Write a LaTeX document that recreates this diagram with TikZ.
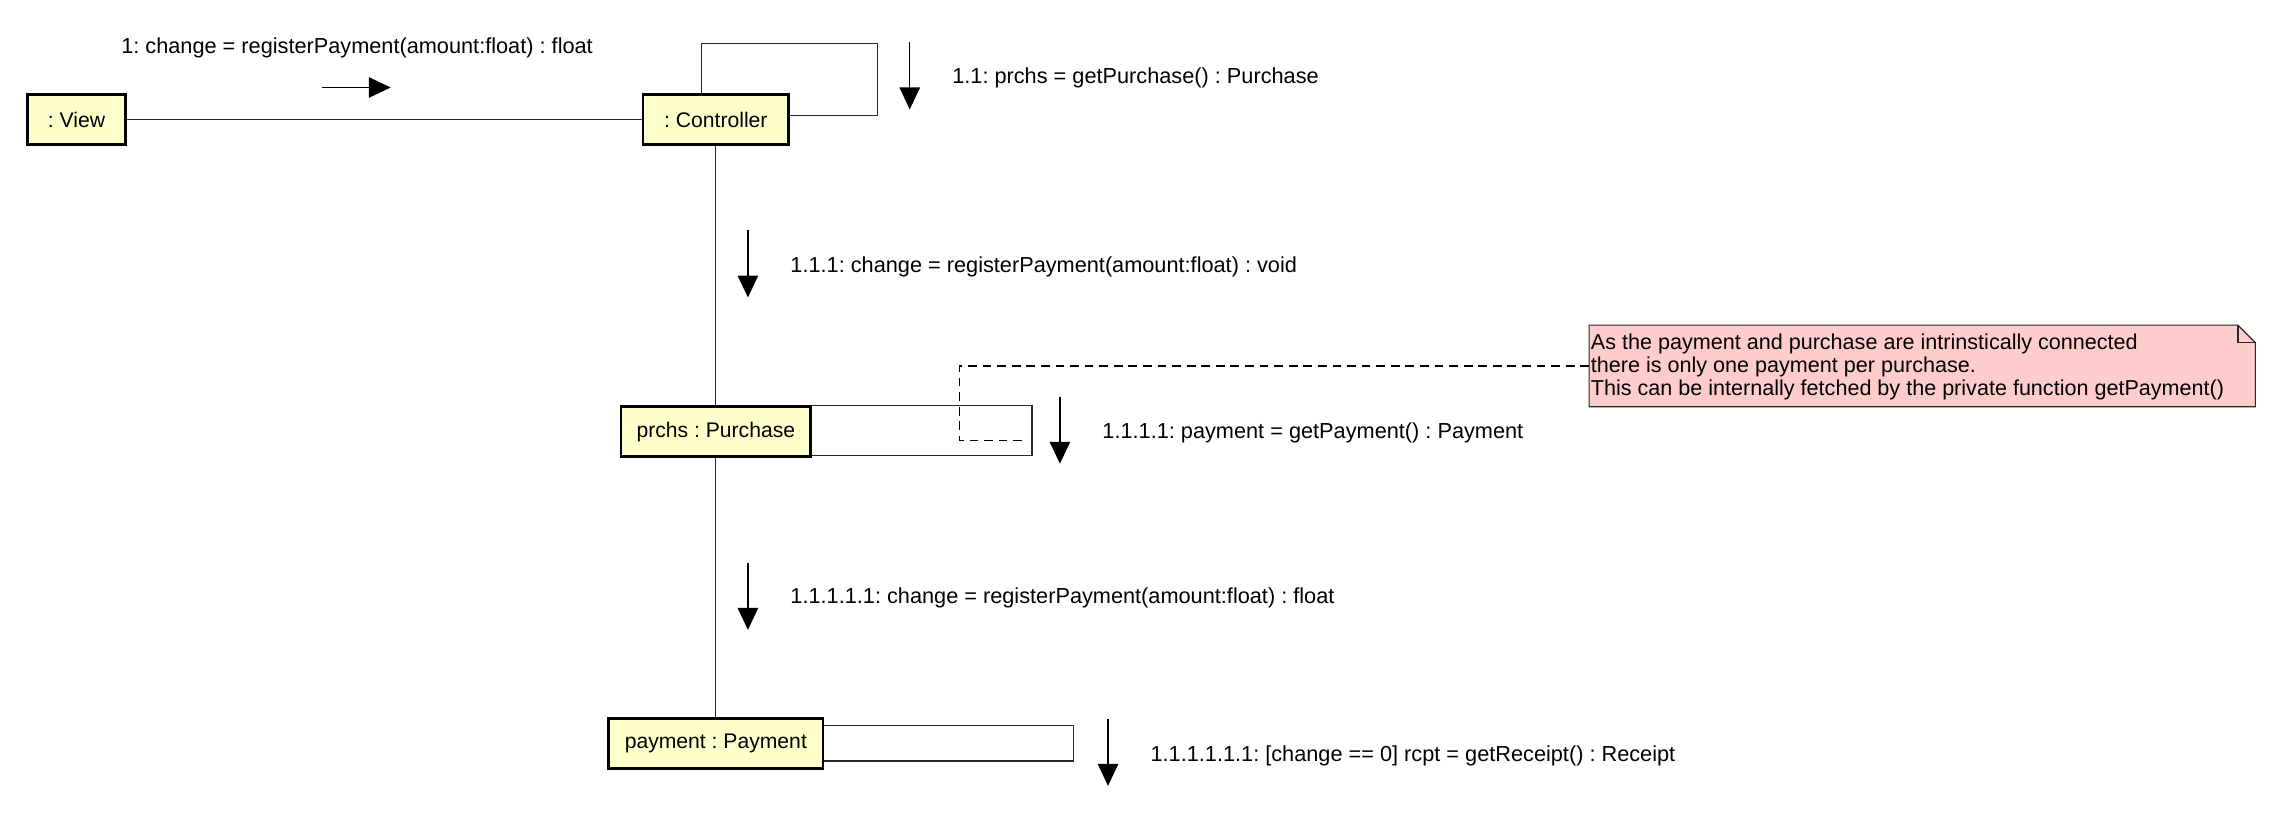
\documentclass[tikz,border=0pt]{standalone}
\usepackage{fontspec}
\setmainfont{Liberation Sans}
\usetikzlibrary{arrows.meta,calc}
\definecolor{objfill}{RGB}{255,255,204}
\definecolor{notefill}{RGB}{255,204,204}
\definecolor{edgegray}{RGB}{40,40,40}
\tikzset{
  obj/.style={draw=black, line width=1.8pt, fill=objfill, minimum height=34pt,
    inner sep=0pt, font=\fontsize{14.5}{16}\selectfont},
  link/.style={draw=edgegray, line width=0.9pt},
  msg/.style={draw=black, line width=0.9pt, -{Triangle[length=15pt,width=14pt]}},
  msglabel/.style={anchor=base west, inner sep=0pt, font=\fontsize{14.9}{16}\selectfont},
  notebox/.style={draw=edgegray, line width=0.8pt, fill=notefill},
  notelink/.style={draw=black, line width=0.9pt, dash pattern=on 6pt off 4pt},
}
\frenchspacing
\begin{document}
\begin{tikzpicture}[x=1pt,y=-1pt]
\useasboundingbox (0,0) rectangle (1568,571);

% object positions (boxes are drawn on top of the links below)
\coordinate (viewc) at (52.5,82);
\coordinate (ctlc)  at (491,82);
\coordinate (purc)  at (491,296);
\coordinate (payc)  at (491,510);
\path (viewc) node[obj, minimum width=67pt, draw=none, fill=none] (view) {\phantom{: View}};
\path (ctlc)  node[obj, minimum width=100pt, draw=none, fill=none] (ctl) {\phantom{: Controller}};
\path (purc)  node[obj, minimum width=130pt, draw=none, fill=none] (pur) {\phantom{prchs : Purchase}};
\path (payc)  node[obj, minimum width=147pt, draw=none, fill=none] (pay) {\phantom{payment : Payment}};

% links between objects
\draw[link] (view.east) -- (ctl.west);
\draw[link] (ctl.south) -- (pur.north);
\draw[link] (pur.south) -- (pay.north);

% self links
\draw[link] ($(ctl.north)+(-10,0)$) |- (602,30) |- ($(ctl.east)+(0,-3)$);
\draw[link] (pur.north east) -| ($(pur.south east)+(151,-1.5)$) -- ($(pur.south east)+(0,-1.5)$);
\draw[link] ($(pay.north east)+(0,5.5)$) -| ($(pay.south east)+(171,-6)$) -- ($(pay.south east)+(0,-6)$);

% object boxes
\node[obj, minimum width=67pt]  at (viewc) {: View};
\node[obj, minimum width=100pt] at (ctlc)  {: Controller};
\node[obj, minimum width=130pt] at (purc)  {prchs : Purchase};
\node[obj, minimum width=147pt] at (payc)  {payment : Payment};

% message arrows
\coordinate (m1s) at (221,60);   \coordinate (m1e) at (268,60);
\coordinate (m2s) at (624,29);   \coordinate (m2e) at (624,75);
\coordinate (m3s) at (513,158);  \coordinate (m3e) at (513,204);
\coordinate (m4s) at (727,272);  \coordinate (m4e) at (727,318);
\coordinate (m5s) at (513,386);  \coordinate (m5e) at (513,432);
\coordinate (m6s) at (760,493);  \coordinate (m6e) at (760,539);
\draw[msg] (m1s) -- (m1e);
\draw[msg] (m2s) -- (m2e);
\draw[msg] (m3s) -- (m3e);
\draw[msg] (m4s) -- (m4e);
\draw[msg] (m5s) -- (m5e);
\draw[msg] (m6s) -- (m6e);

% message labels
\node[msglabel] (t1) at (83,37)  {1: change = registerPayment(amount:float) : float};
\node[msglabel] (t2) at (653,57) {1.1: prchs = getPurchase() : Purchase};
\node[msglabel] (t3) at (542,187) {1.1.1: change = registerPayment(amount:float) : void};
\node[msglabel] (t4) at (756,301) {1.1.1.1: payment = getPayment() : Payment};
\node[msglabel] (t5) at (542,414) {1.1.1.1.1: change = registerPayment(amount:float) : float};
\node[msglabel] (t6) at (789,522) {1.1.1.1.1.1: [change == 0] rcpt = getReceipt() : Receipt};

% note with folded corner
\draw[notebox] (1090,223) -- (1535,223) -- (1547,235) -- (1547,279) -- (1090,279) -- cycle;
\draw[draw=edgegray, line width=0.8pt] (1535,223) -- (1535,235) -- (1547,235);
\node[anchor=north west, inner sep=0pt, align=left,
      font=\fontsize{14.8}{16}\selectfont] (note) at (1091,228.5)
  {As the payment and purchase are intrinstically connected\\
   there is only one payment per purchase.\\
   This can be internally fetched by the private function getPayment()};
\coordinate (noteanchor) at (1090,251);
\coordinate (purend) at (705,302);
\draw[notelink] (noteanchor) -- (658,251) -- (658,302) -- (purend);
\end{tikzpicture}
\end{document}
